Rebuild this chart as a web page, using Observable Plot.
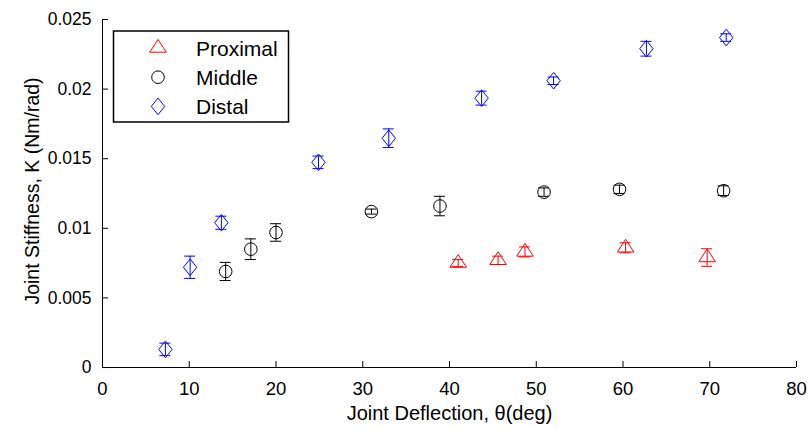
<!DOCTYPE html>
<html><head><meta charset="utf-8">
<script src="https://cdn.jsdelivr.net/npm/d3@7"></script>
<script src="https://cdn.jsdelivr.net/npm/@observablehq/plot@0.6"></script>
<style>
body{margin:0;background:#fff;}
#wrap{position:relative;width:811px;height:428px;font-family:"Liberation Sans",Arial,Helvetica,sans-serif;}
#legend{position:absolute;left:0;top:0;pointer-events:none;}
</style></head><body><div id="wrap"></div>
<script>
// ---- data ----
const seriesNames = ["Proximal", "Middle", "Distal"];
const seriesColors = ["#ff0000", "#000000", "#0000ff"];

const proxX = [41.0, 45.6, 48.7, 60.3, 69.7];
const proxK = [0.0075, 0.0077, 0.0083, 0.0086, 0.0079];
const proxE = [0.00025, 0.0003, 0.00036, 0.00036, 0.00063];

const midX = [14.2, 17.1, 20.0, 31.0, 38.9, 50.9, 59.6, 71.6];
const midK = [0.0069, 0.0085, 0.0097, 0.0112, 0.0116, 0.0126, 0.0128, 0.0127];
const midE = [0.00065, 0.00074, 0.00063, 0.00018, 0.0007, 0.0003, 0.0003, 0.00035];

const distX = [7.25, 10.1, 13.7, 24.9, 33.0, 43.7, 52.0, 62.7, 71.9];
const distK = [0.0013, 0.0072, 0.0104, 0.01474, 0.01647, 0.01935, 0.0206, 0.0229, 0.0237];
const distE = [0.00045, 0.0008, 0.00047, 0.00045, 0.00067, 0.0005, 0.00027, 0.00053, 0.00027];

const xTicks = [0, 10, 20, 30, 40, 50, 60, 70, 80];
const yTicks = [0, 0.005, 0.01, 0.015, 0.02, 0.025];
const yTickLabels = ["0", "0.005", "0.01", "0.015", "0.02", "0.025"];
const xLabel = "Joint Deflection, θ(deg)";
const yLabel = "Joint Stiffness, K (Nm/rad)";

// ---- build ----
function rows(X, K, E) { return X.map((x, i) => ({x, k: K[i], e: E[i]})); }
const sets = [rows(proxX, proxK, proxE), rows(midX, midK, midE), rows(distX, distK, distE)];

const triangle = {draw(ctx, size) { const s = Math.sqrt(size / Math.PI) / 6;
  ctx.moveTo(0, -8.5 * s); ctx.lineTo(8.3 * s, 4.2 * s); ctx.lineTo(-8.3 * s, 4.2 * s); ctx.closePath(); }};
const circle = {draw(ctx, size) { const r = Math.sqrt(size / Math.PI) / 6 * 6.3;
  ctx.moveTo(r, 0); ctx.arc(0, 0, r, 0, 2 * Math.PI); ctx.closePath(); }};
const diamond = {draw(ctx, size) { const s = Math.sqrt(size / Math.PI) / 6;
  ctx.moveTo(0, -8.3 * s); ctx.lineTo(6.7 * s, 0); ctx.lineTo(0, 8.3 * s); ctx.lineTo(-6.7 * s, 0); ctx.closePath(); }};
const symbols = [triangle, circle, diamond];

const W = 811, H = 428, mL = 102, mR = 15, mT = 19, mB = 61;
const plotW = W - mL - mR, plotH = H - mT - mB;

const marks = [
  Plot.tickX(xTicks, {x: d => d, insetTop: plotH - 6, stroke: "black"}),
  Plot.tickY(yTicks, {y: d => d, insetRight: plotW - 6, stroke: "black"}),
  Plot.ruleY([0], {stroke: "black"}),
  Plot.ruleX([0], {stroke: "black"}),
  Plot.axisX({ticks: xTicks, tickSize: 0, tickPadding: 14, fontSize: 18.5, label: null, tickFormat: d => String(d)}),
  Plot.axisY({ticks: yTicks, tickSize: 0, tickPadding: 11, fontSize: 17.5, label: null, tickFormat: d => yTickLabels[yTicks.indexOf(d)]}),
  Plot.text([xLabel], {frameAnchor: "bottom", textAnchor: "middle", lineAnchor: "middle", dy: 46, text: d => d, fontSize: 20, fill: "black"}),
  Plot.text([yLabel], {frameAnchor: "left", textAnchor: "middle", lineAnchor: "middle", rotate: -90, dx: -70, dy: -2.5, text: d => d, fontSize: 19.5, fill: "black"})
];
sets.forEach((set, i) => {
  const c = seriesColors[i];
  marks.push(
    Plot.ruleX(set, {x: "x", y1: d => d.k - d.e, y2: d => d.k + d.e, stroke: c, strokeWidth: 1}),
    Plot.ruleY(set, {y: d => d.k + d.e, x1: "x", x2: "x", insetLeft: -5.5, insetRight: -5.5, stroke: c, strokeWidth: 1}),
    Plot.ruleY(set, {y: d => d.k - d.e, x1: "x", x2: "x", insetLeft: -5.5, insetRight: -5.5, stroke: c, strokeWidth: 1}),
    Plot.dot(set, {x: "x", y: "k", symbol: symbols[i], r: 6, stroke: c, fill: "none", strokeWidth: 1})
  );
});

const chart = Plot.plot({
  width: W, height: H,
  marginLeft: mL, marginRight: mR, marginTop: mT, marginBottom: mB,
  x: {domain: [0, 80]},
  y: {domain: [0, 0.025]},
  style: {fontFamily: '"Liberation Sans", Arial, Helvetica, sans-serif', background: "white", color: "black", overflow: "visible"},
  marks
});
const wrap = document.getElementById("wrap");
wrap.appendChild(chart);

// ---- legend overlay ----
const ns = "http://www.w3.org/2000/svg";
const lg = document.createElementNS(ns, "svg");
lg.setAttribute("id", "legend");
lg.setAttribute("width", W); lg.setAttribute("height", H);
const rect = document.createElementNS(ns, "rect");
rect.setAttribute("x", 113.5); rect.setAttribute("y", 31); rect.setAttribute("width", 175); rect.setAttribute("height", 91);
rect.setAttribute("fill", "white"); rect.setAttribute("stroke", "black"); rect.setAttribute("stroke-width", 1.5);
lg.appendChild(rect);
seriesNames.forEach((name, i) => {
  const cy = 48 + i * 29.2;
  const p = document.createElementNS(ns, "path");
  p.setAttribute("d", d3.symbol(symbols[i], 36 * Math.PI)());
  p.setAttribute("transform", `translate(158,${cy})`);
  p.setAttribute("fill", "none"); p.setAttribute("stroke", seriesColors[i]); p.setAttribute("stroke-width", 1);
  lg.appendChild(p);
  const t = document.createElementNS(ns, "text");
  t.setAttribute("x", 196); t.setAttribute("y", cy + 7.5);
  t.setAttribute("font-size", 21); t.setAttribute("fill", "black");
  t.setAttribute("font-family", '"Liberation Sans", Arial, Helvetica, sans-serif');
  t.textContent = name;
  lg.appendChild(t);
});
wrap.appendChild(lg);
</script></body></html>
